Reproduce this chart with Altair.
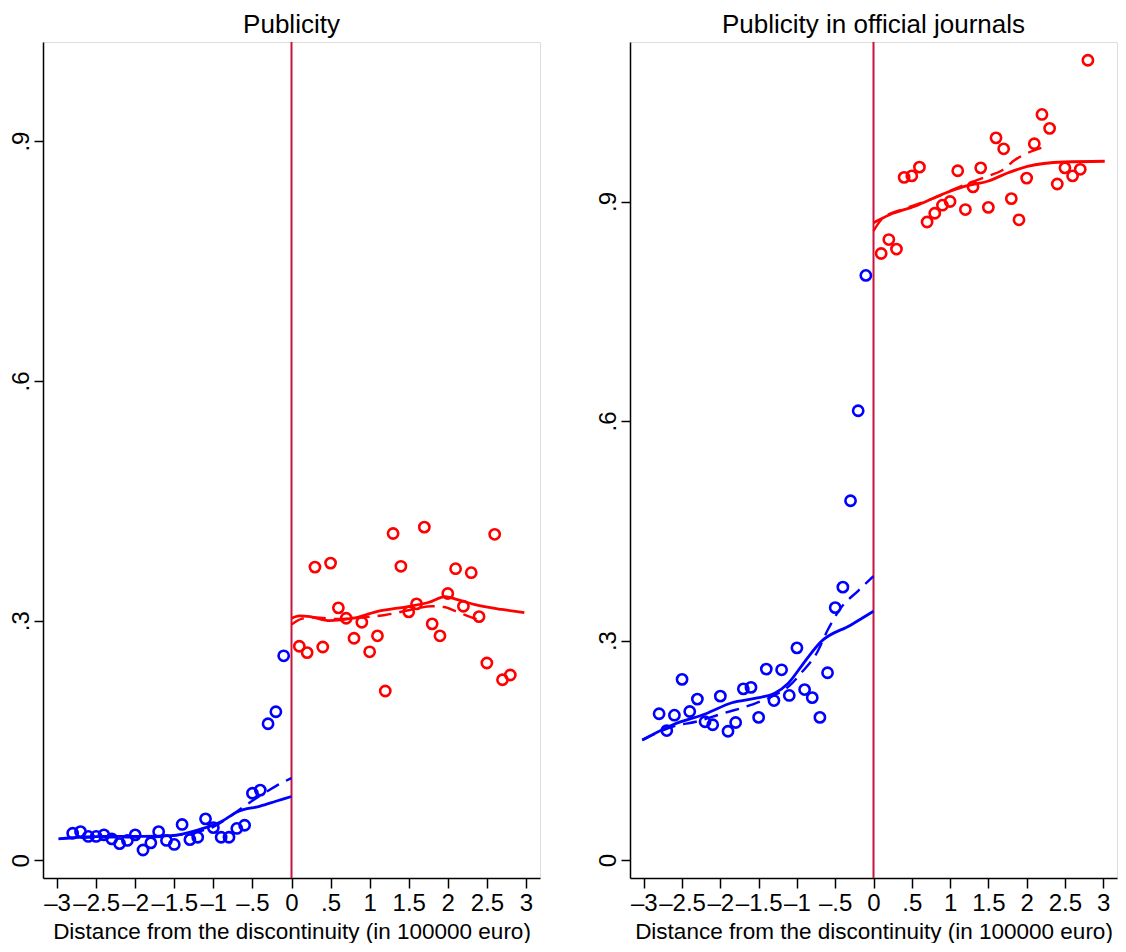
import altair as alt
import pandas as pd

FONT = "Liberation Sans, Arial, Helvetica"

# ---- data ----
bins_left = [-2.8, -2.7, -2.6, -2.5, -2.4, -2.3, -2.2, -2.1, -2.0, -1.9, -1.8, -1.7, -1.6, -1.5,
             -1.4, -1.3, -1.2, -1.1, -1.0, -0.9, -0.8, -0.7, -0.6, -0.5, -0.4, -0.3, -0.2, -0.1]
bins_right = [0.1, 0.2, 0.3, 0.4, 0.5, 0.6, 0.7, 0.8, 0.9, 1.0, 1.1, 1.2, 1.3, 1.4,
              1.5, 1.6, 1.7, 1.8, 1.9, 2.0, 2.1, 2.2, 2.3, 2.4, 2.5, 2.6, 2.7, 2.8]

# Panel 1: Publicity
p1_blue = [0.034, 0.036, 0.030, 0.030, 0.032, 0.027, 0.021, 0.025, 0.032, 0.013, 0.022, 0.036, 0.025, 0.020,
           0.045, 0.026, 0.029, 0.052, 0.041, 0.029, 0.029, 0.040, 0.044, 0.084, 0.088, 0.171, 0.186, 0.256]
p1_red = [0.268, 0.260, 0.367, 0.267, 0.372, 0.316, 0.303, 0.278, 0.298, 0.261, 0.281, 0.212, 0.409, 0.368,
          0.311, 0.321, 0.417, 0.296, 0.281, 0.334, 0.365, 0.318, 0.360, 0.305, 0.247, 0.408, 0.226, 0.232]

p1_blue_solid_x = [-2.98, -2.4, -1.9, -1.54, -1.2, -0.91, -0.69, -0.4, -0.2, 0.0]
p1_blue_solid_y = [0.027, 0.030, 0.030, 0.031, 0.038, 0.048, 0.061, 0.068, 0.074, 0.080]
p1_blue_dash_x = [-2.98, -2.4, -1.9, -1.5, -1.2, -1.0, -0.8, -0.6, -0.4, -0.2, 0.0]
p1_blue_dash_y = [0.027, 0.029, 0.029, 0.031, 0.036, 0.042, 0.054, 0.068, 0.081, 0.093, 0.103]
p1_red_solid_x = [0.0, 0.1, 0.24, 0.49, 0.79, 1.08, 1.51, 1.76, 1.97, 2.1, 2.35, 2.69, 2.98]
p1_red_solid_y = [0.303, 0.306, 0.305, 0.300, 0.303, 0.311, 0.318, 0.323, 0.330, 0.327, 0.320, 0.314, 0.310]
p1_red_dash_x = [0.0, 0.12, 0.3, 0.6, 0.9, 1.2, 1.5, 1.8, 1.95, 2.1, 2.25, 2.4]
p1_red_dash_y = [0.295, 0.302, 0.304, 0.302, 0.304, 0.307, 0.313, 0.318, 0.317, 0.312, 0.306, 0.301]

# Panel 2: Publicity in official journals
p2_blue = [0.200, 0.177, 0.198, 0.247, 0.203, 0.220, 0.189, 0.185, 0.224, 0.176, 0.188, 0.234, 0.236, 0.195,
           0.261, 0.218, 0.260, 0.225, 0.290, 0.233, 0.222, 0.195, 0.256, 0.345, 0.373, 0.491, 0.614, 0.799]
p2_red = [0.829, 0.848, 0.835, 0.933, 0.935, 0.947, 0.872, 0.884, 0.895, 0.900, 0.942, 0.889, 0.920, 0.946,
          0.892, 0.987, 0.972, 0.904, 0.875, 0.932, 0.979, 1.019, 1.000, 0.924, 0.946, 0.935, 0.944, 1.093]

p2_blue_solid_x = [-3.02, -2.62, -2.19, -1.85, -1.55, -1.29, -1.12, -0.9, -0.69, -0.3, 0.0]
p2_blue_solid_y = [0.164, 0.185, 0.200, 0.215, 0.221, 0.228, 0.241, 0.271, 0.298, 0.321, 0.340]
p2_blue_dash_x = [-3.02, -2.6, -2.32, -1.98, -1.6, -1.3, -1.1, -0.95, -0.73, -0.6, -0.43, -0.2, 0.0]
p2_blue_dash_y = [0.164, 0.183, 0.189, 0.200, 0.212, 0.225, 0.238, 0.255, 0.285, 0.314, 0.344, 0.368, 0.388]
p2_red_solid_x = [0.0, 0.21, 0.55, 0.9, 1.2, 1.5, 1.75, 2.01, 2.48, 3.02]
p2_red_solid_y = [0.871, 0.882, 0.894, 0.910, 0.921, 0.928, 0.939, 0.948, 0.954, 0.955]
p2_red_dash_x = [0.0, 0.12, 0.4, 0.8, 1.1, 1.5, 1.67, 1.85, 2.05, 2.25]
p2_red_dash_y = [0.860, 0.877, 0.890, 0.905, 0.919, 0.935, 0.942, 0.957, 0.968, 0.975]

x_ticks = [-3, -2.5, -2, -1.5, -1, -0.5, 0, 0.5, 1, 1.5, 2, 2.5, 3]
y_ticks = [0, 0.3, 0.6, 0.9]

BLUE = "#0000ff"
RED = "#ff0000"
VLINE = "#c8143c"

x_label_expr = "(datum.value < 0 ? '\u2013' : '') + replace(format(abs(datum.value), '~g'), '0.', '.')"
y_label_expr = "replace(format(datum.value, '~g'), '0.', '.')"


def panel(title, blue, red, lines, ydom, width, height):
    pts = pd.DataFrame({
        "x": bins_left + bins_right,
        "y": blue + red,
        "side": ["left"] * len(blue) + ["right"] * len(red),
    })
    xs = alt.X("x:Q", scale=alt.Scale(domain=[-3.18, 3.18], nice=False, zero=False),
               axis=alt.Axis(values=x_ticks, labelExpr=x_label_expr,
                             title="Distance from the discontinuity (in 100000 euro)",
                             grid=False, tickSize=10, labelPadding=3, titlePadding=5,
                             labelFontSize=24, titleFontSize=22.5, labelFont=FONT, titleFont=FONT,
                             titleFontWeight="normal", labelColor="black", titleColor="black",
                             domainColor="black", tickColor="black", domainWidth=1.5, tickWidth=1.5,
                             labelOverlap=False, labelFlush=False))
    ys = alt.Y("y:Q", scale=alt.Scale(domain=ydom, nice=False, zero=False),
               axis=alt.Axis(values=y_ticks, labelExpr=y_label_expr, title=None, grid=False,
                             tickSize=9, labelPadding=1, labelAngle=-90, labelAlign="center",
                             labelBaseline="bottom", labelFontSize=24, labelFont=FONT,
                             labelColor="black", domainColor="black", tickColor="black",
                             domainWidth=1.5, tickWidth=1.5, labelFlush=False))
    rule = alt.Chart(pd.DataFrame({"x": [0]})).mark_rule(color=VLINE, strokeWidth=2).encode(
        x=alt.X("x:Q"))
    points = alt.Chart(pts).mark_point(shape="circle", filled=False, size=105, strokeWidth=2.6,
                                       opacity=1).encode(
        x=xs, y=ys,
        color=alt.Color("side:N", scale=alt.Scale(domain=["left", "right"], range=[BLUE, RED]),
                        legend=None))
    layers = [rule, points]
    for (lx, ly, col, dashed) in lines:
        ldf = pd.DataFrame({"x": lx, "y": ly})
        kw = dict(color=col, strokeWidth=2.8, interpolate="monotone", clip=True)
        if dashed:
            kw["strokeDash"] = [14, 8]
            kw["strokeWidth"] = 2.4
        layers.append(alt.Chart(ldf).mark_line(**kw).encode(x="x:Q", y="y:Q"))
    return alt.layer(*layers).properties(
        width=width, height=height,
        title=alt.TitleParams(title, fontSize=26, font=FONT, fontWeight="normal",
                              color="black", offset=3))


left = panel("Publicity", p1_blue, p1_red,
             [(p1_blue_solid_x, p1_blue_solid_y, BLUE, False),
              (p1_blue_dash_x, p1_blue_dash_y, BLUE, True),
              (p1_red_solid_x, p1_red_solid_y, RED, False),
              (p1_red_dash_x, p1_red_dash_y, RED, True)],
             [-0.022, 1.024], 497, 836)
right = panel("Publicity in official journals", p2_blue, p2_red,
              [(p2_blue_solid_x, p2_blue_solid_y, BLUE, False),
               (p2_blue_dash_x, p2_blue_dash_y, BLUE, True),
               (p2_red_solid_x, p2_red_solid_y, RED, False),
               (p2_red_dash_x, p2_red_dash_y, RED, True)],
              [-0.0245, 1.118], 487, 836)

chart = alt.hconcat(left, right, spacing=54).properties(
    padding={"left": 0, "top": 3, "right": 0, "bottom": 0}
).configure_view(stroke="black", strokeWidth=1.5).configure(background="white")

chart.save("out.html", embed_options={"renderer": "svg", "actions": False})
